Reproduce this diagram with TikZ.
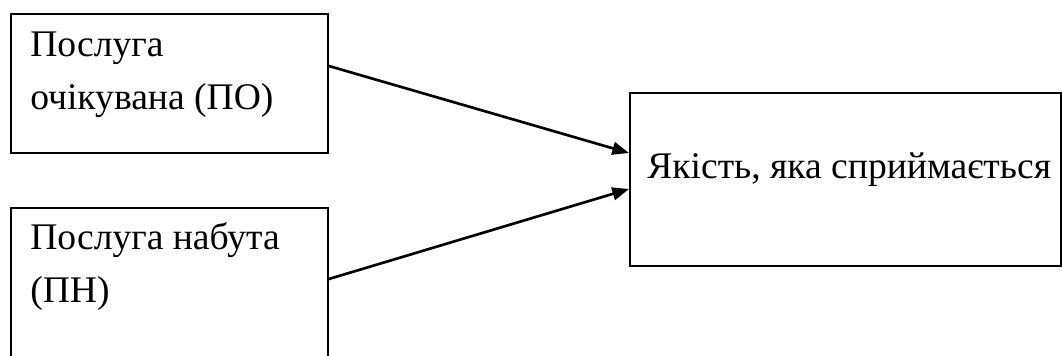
\documentclass[tikz,border=0pt]{standalone}
\usepackage{fontspec}
\setmainfont{Liberation Serif}
\usetikzlibrary{arrows.meta,calc}
\begin{document}
\begin{tikzpicture}[x=0.75pt,y=-0.75pt,
  box/.style={draw=black,line width=1.4pt,rectangle,inner sep=0pt,anchor=north west},
  txt/.style={font=\fontsize{28.2pt}{32pt}\selectfont,inner sep=0pt,anchor=base west},
  conn/.style={draw=black,line width=2pt,-{Triangle[length=12.5pt,width=9.5pt]}}]
\useasboundingbox (0,0) rectangle (1062,356);
\clip (0,0) rectangle (1062,356);
\node[box,minimum width=237.75pt,minimum height=104.25pt] (po) at (10,13) {};
\node[box,minimum width=237.75pt,minimum height=125pt] (pn) at (10,207) {};
\node[box,minimum width=323.25pt,minimum height=129.75pt] (q) at (629,92) {};
\node[txt] (po1) at (30,57) {Послуга};
\node[txt] (po2) at (30,110) {очікувана (ПО)};
\node[txt] (pn1) at (30,249) {Послуга набута};
\node[txt] (pn2) at (30,302) {(ПН)};
\node[txt] (qt) at (647,178) {Якість, яка сприймається};
\draw[conn] ($(po.north east)+(0,53)$) -- ($(q.north west)+(0,61)$);
\draw[conn] ($(pn.north east)+(0,72)$) -- ($(q.north west)+(0,97)$);
\end{tikzpicture}
\end{document}
